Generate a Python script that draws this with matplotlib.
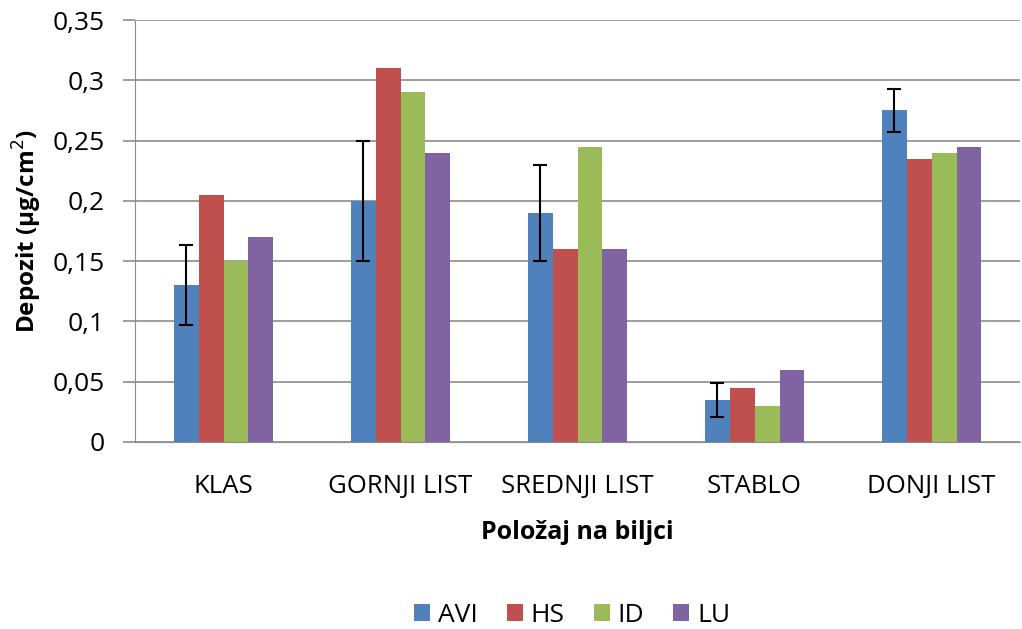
import numpy as np
import matplotlib.pyplot as plt
from matplotlib.ticker import FuncFormatter

plt.rcParams['font.family'] = ['Open Sans', 'DejaVu Sans']

categories = ['KLAS', 'GORNJI LIST', 'SREDNJI LIST', 'STABLO', 'DONJI LIST']
series = ['AVI', 'HS', 'ID', 'LU']
avi = [0.13, 0.20, 0.19, 0.035, 0.275]
hs = [0.205, 0.31, 0.16, 0.045, 0.235]
id_ = [0.15, 0.29, 0.245, 0.03, 0.24]
lu = [0.17, 0.24, 0.16, 0.06, 0.245]
avi_err = [0.033, 0.05, 0.04, 0.014, 0.018]

colors = ['#4F81BD', '#C0504D', '#9BBB59', '#8064A2']
values = [avi, hs, id_, lu]

fig = plt.figure(figsize=(10.22, 6.29), dpi=100)
ax = fig.add_axes([0.1321, 0.2973, 0.866, 0.6709])

x = np.arange(len(categories))
w = 0.141
for i, (name, vals) in enumerate(zip(series, values)):
    pos = x + (i - 1.5) * w
    ax.bar(pos, vals, width=w, color=colors[i], label=name, zorder=2)
    if name == 'AVI':
        ax.errorbar(pos, vals, yerr=avi_err, fmt='none', ecolor='black',
                    elinewidth=1.5, capsize=5, capthick=1.5, zorder=3)

ax.set_xlim(-0.5, len(categories) - 0.5)
ax.set_ylim(0, 0.35)
ax.set_yticks(np.arange(0, 0.351, 0.05))
ax.yaxis.set_major_formatter(FuncFormatter(
    lambda v, p: '0' if abs(v) < 1e-9 else ('%g' % round(v, 2)).replace('.', ',')))
ax.grid(axis='y', color='#8c8c8c', linewidth=1.2, zorder=0)
ax.set_axisbelow(True)
for s in ['top', 'right']:
    ax.spines[s].set_visible(False)
ax.spines['left'].set_color('#8c8c8c')
ax.spines['bottom'].set_color('#8c8c8c')
ax.tick_params(axis='y', length=8.6, width=1.2, color='#8c8c8c', labelsize=19, pad=13)
ax.tick_params(axis='x', length=0, labelsize=18.5, pad=23)
ax.set_xticks(x)
ax.set_xticklabels(categories)

ax.set_ylabel('Depozit (µg/cm$^2$)', fontsize=17.5, fontweight='bold', labelpad=6)
ax.set_xlabel('Položaj na biljci', fontsize=18, fontweight='bold', labelpad=15)

fig.legend(loc='center', bbox_to_anchor=(0.56, 0.022), ncol=4, frameon=False,
           fontsize=19, handlelength=0.6, handleheight=0.6, handletextpad=0.3,
           columnspacing=1.1, borderpad=0)

fig.savefig('out.png', dpi=100)
